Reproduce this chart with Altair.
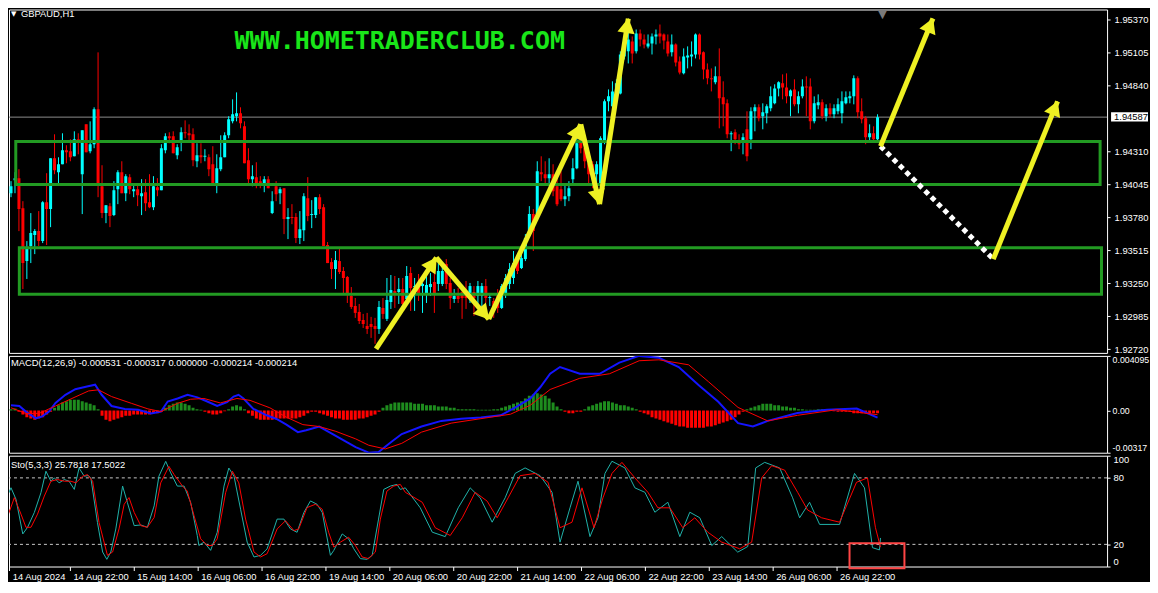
import json, math
import altair as alt
import pandas as pd

# ---------------- text ----------------
SYMBOL = "GBPAUD,H1"
SITE = "WWW.HOMETRADERCLUB.COM"
MACD_TITLE = "MACD(12,26,9) -0.000531 -0.000317 0.000000 -0.000214 -0.000214"
STO_TITLE = "Sto(5,3,3) 25.7818 17.5022"
LAST_PRICE = 1.94587

X_LABELS = ["14 Aug 2024", "14 Aug 22:00", "15 Aug 14:00", "16 Aug 06:00", "16 Aug 22:00",
            "19 Aug 14:00", "20 Aug 06:00", "20 Aug 22:00", "21 Aug 14:00", "22 Aug 06:00",
            "22 Aug 22:00", "23 Aug 14:00", "26 Aug 06:00", "26 Aug 22:00"]
X_TICK_BARS = [0.8, 16, 32, 48, 64, 80, 96, 112, 128, 144, 160, 176, 192, 208]
PRICE_TICKS = [1.95370, 1.95105, 1.94840, 1.94310, 1.94045, 1.93780, 1.93515, 1.93250, 1.92985, 1.92720]
MACD_TICKS = [0.004095, 0.0, -0.00317]
STO_TICKS = [100, 80, 20, 0]
STO_LEVELS = [20, 80]

# ---------------- H1 candles (prices in points, 1e-5) ----------------
OPEN_PTS = [193975,194080,194096,193855,193429,193550,193638,193670,193590,193903,
193847,194256,194144,194208,194321,194313,194272,194409,194128,194529,
194313,194369,194650,194031,193815,193871,193799,194007,194144,193975,
194104,193991,194007,193951,193983,193903,193863,194023,193999,194321,
194433,194433,194280,194393,194465,194457,194449,194232,194280,194269,
194264,194208,194048,194168,194264,194441,194553,194594,194618,194513,
194240,194088,194104,194072,194056,194088,193815,194031,193975,194015,
193767,193783,193783,193614,193678,193935,193799,193799,193943,193863,
193558,193421,193365,193429,193349,193301,193148,193068,193020,192955,
192907,192923,192907,192883,193052,192964,193100,193188,193180,193204,
193124,193333,193220,193228,193228,193172,193220,193261,193245,193245,
193405,193253,193124,193148,193180,193164,193132,193180,193148,193148,
193228,193132,193108,193164,193052,193164,193245,193293,193429,193373,
193445,193646,193807,193807,194144,194128,194096,194128,194031,194007,
193927,193951,194088,194176,194393,194337,194216,194208,194128,194048,
194393,194714,194674,194778,194778,195075,195116,195196,195116,195260,
195212,195156,195180,195236,195260,195252,195196,195108,195172,195035,
194939,195067,195075,195091,195252,195108,194971,194899,194867,194915,
194746,194698,194449,194465,194377,194401,194489,194409,194634,194666,
194594,194618,194658,194698,194818,194859,194826,194754,194810,194690,
194754,194834,194834,194553,194682,194706,194594,194658,194610,194634,
194618,194698,194738,194754,194899,194634,194578,194425,194457,194409]
HIGH_PTS = [194072,194144,194168,193911,193590,193815,193686,193831,193911,194136,
194256,194449,194264,194457,194361,194409,194473,194457,194481,194529,
194553,194666,195108,194200,193879,193895,194072,194160,194232,194128,
194128,194056,194056,194088,194088,194128,194112,194096,194369,194457,
194465,194473,194369,194505,194561,194529,194497,194377,194377,194329,
194288,194353,194288,194441,194465,194594,194730,194786,194666,194553,
194337,194200,194224,194112,194112,194112,193991,194072,194023,194015,
193855,193887,193815,193831,193975,194104,193919,193943,193967,193887,
193582,193453,193510,193526,193381,193309,193220,193132,193084,193004,
193012,192980,192972,193108,193132,193293,193317,193309,193293,193293,
193389,193381,193293,193325,193253,193333,193333,193405,193429,193413,
193445,193293,193204,193212,193212,193269,193253,193228,193269,193253,
193285,193172,193132,193204,193245,193325,193413,193510,193469,193510,
193646,193871,193847,194232,194272,194232,194256,194208,194112,194152,
194056,194072,194256,194417,194457,194369,194256,194232,194232,194433,
194730,194810,194875,194891,195116,195220,195300,195236,195292,195292,
195252,195252,195260,195292,195332,195260,195252,195252,195180,195075,
195140,195156,195196,195260,195260,195116,195019,194979,194995,195140,
194875,194730,194473,194489,194449,194457,194634,194666,194690,194690,
194698,194690,194834,194851,194875,194931,194939,194810,194891,194794,
194891,194915,194899,194754,194770,194730,194690,194698,194690,194738,
194794,194794,194794,194923,194915,194738,194594,194529,194513,194610]
LOW_PTS = [193943,193975,193670,193204,193285,193413,193485,193550,193574,193558,
193702,194128,194056,194208,194216,194232,194272,194288,193807,194304,
194296,194337,193943,193775,193734,193702,193791,193887,193975,193911,
193967,193943,193871,193799,193831,193855,193839,193951,193999,194296,
194377,194296,194248,194313,194417,194401,194192,194184,194216,194232,
194112,194056,193975,194152,194264,194417,194537,194553,194497,194216,
194056,194031,194015,194015,193983,194015,193807,193911,193887,193646,
193606,193726,193574,193566,193590,193750,193694,193775,193807,193550,
193413,193285,193204,193325,193172,193092,193044,192972,192923,192891,
192843,192811,192763,192843,192964,192947,193044,193052,193084,193028,
193084,193028,193028,193108,193012,193092,193148,193012,193188,193228,
193204,193044,193092,193092,192964,193044,193092,192988,193068,193052,
193092,193068,192972,193012,193044,193132,193204,193245,193325,193365,
193429,193646,193510,193807,194072,194056,194031,193951,193871,193911,
193871,193911,194056,194168,194296,194176,194056,194015,193935,194031,
194369,194634,194634,194738,194770,195051,195019,195019,195099,195156,
195140,195140,195091,195172,195180,195132,195075,195075,194995,194931,
194931,194979,194995,195059,195051,194891,194851,194794,194851,194497,
194513,194417,194313,194369,194329,194288,194232,194329,194473,194553,
194489,194537,194634,194690,194754,194730,194698,194594,194674,194618,
194738,194594,194489,194537,194650,194570,194553,194586,194578,194610,
194537,194690,194698,194690,194578,194537,194369,194393,194401,194393]
CLOSE_PTS = [194031,194096,193847,193413,193534,193654,193670,193590,193903,193847,
194256,194160,194208,194321,194304,194264,194409,194401,194481,194304,
194369,194650,194056,193815,193879,193791,193999,194144,193975,194112,
194007,194007,193959,193975,193895,193863,194031,193999,194337,194433,
194417,194296,194345,194465,194457,194441,194240,194280,194264,194277,
194168,194056,194176,194264,194441,194570,194610,194618,194537,194216,
194088,194112,194056,194048,194088,194015,193911,193967,194007,193767,
193783,193775,193614,193686,193951,193791,193807,193943,193847,193550,
193413,193365,193437,193341,193293,193172,193060,193012,192947,192923,
192883,192899,192883,193060,193004,193116,193196,193172,193204,193084,
193309,193212,193228,193172,193245,193237,193245,193172,193349,193349,
193245,193132,193148,193124,193132,193132,193228,193132,193228,193228,
193132,193140,193052,193052,193228,193293,193365,193413,193349,193453,
193614,193807,193670,194152,194128,194096,194128,193991,193887,193927,
193951,194015,194176,194377,194337,194232,194128,194120,194208,194417,
194714,194754,194794,194859,195091,195180,195212,195099,195260,195212,
195172,195180,195236,195252,195236,195204,195099,195172,195027,194947,
195075,195083,195091,195252,195091,194971,194899,194891,194915,194738,
194690,194449,194457,194409,194369,194425,194272,194634,194666,194578,
194626,194674,194754,194818,194867,194826,194754,194802,194690,194754,
194834,194826,194553,194698,194706,194594,194658,194610,194658,194690,
194714,194746,194754,194899,194626,194570,194425,194457,194409,194587]

# ---------------- MACD ----------------
MACD_HIST = [0.0001,0.00015,-0.0001,-0.0003,-0.0005,-0.0006,-0.0007,-0.0006,-0.0005,-0.0003,-0.0001,
0.0002,0.0004,0.0006,0.0007,0.0008,0.0008,0.0008,0.0007,0.0006,0.0005,0.0004,0.0001,
-0.0004,-0.0007,-0.0008,-0.0007,-0.0006,-0.0005,-0.0004,-0.0004,-0.0003,-0.0003,-0.0003,-0.0003,-0.0003,-0.0002,-0.0002,-0.0001,
0.0002,0.0004,0.0005,0.0006,0.0006,0.0005,0.0004,0.0002,0.0001,0.00005,
-0.0001,-0.0002,-0.0003,-0.0003,-0.0002,-0.00005,
0.0001,0.0003,0.0004,0.0003,0.0001,
-0.0002,-0.0004,-0.0006,-0.0007,-0.0007,-0.0007,-0.0007,-0.0006,-0.0006,-0.0006,-0.0006,-0.0006,-0.0006,-0.0005,-0.0004,-0.0002,-0.0001,-0.0001,-0.0002,-0.0003,-0.0004,-0.0005,-0.0006,-0.0006,-0.0007,-0.0007,-0.0007,-0.0007,-0.0006,-0.0006,-0.0005,-0.0004,-0.0003,-0.0001,
0.0002,0.0004,0.0005,0.0006,0.0006,
0.0006,0.0006,0.0006,0.0005,0.0005,0.0005,0.0004,0.0004,0.0004,0.0003,0.0003,0.0003,0.0002,0.0002,0.0001,0.0001,0.0001,0.0001,0.0001,0.00005,0.00005,0.00005,0.00005,0.0001,0.0001,0.0002,0.0003,0.0004,0.0005,0.0006,0.0007,0.0009,0.0011,0.0012,0.0013,0.0012,0.0011,0.0009,0.0006,0.0003,0.0001,
-0.0001,-0.0002,-0.0002,-0.0001,-0.0001,0.0001,0.0003,0.0004,0.0005,0.0006,0.0007,0.0007,0.0006,0.0005,0.0004,0.0004,0.0003,0.0002,0.0001,
-0.0001,-0.0002,-0.0003,-0.0005,-0.0006,-0.0007,-0.0008,-0.0009,-0.001,-0.0011,-0.0012,-0.0012,-0.0013,-0.0013,-0.0013,-0.0013,-0.0013,-0.0012,-0.0012,-0.0011,-0.001,-0.0009,-0.0008,-0.0007,-0.0005,-0.0003,-0.0001,
0.0001,0.0002,0.0003,0.0004,0.0005,0.0005,0.0005,0.0004,0.0004,0.0003,0.0003,0.0002,0.0002,0.0001,0.0001,0.00005,0.00005,0.00005,0.0001,0.0001,0.00005,0.00002,
-0.00005,-0.0001,-0.0001,-0.0001,-0.0001,-0.0002,-0.0002,-0.0002,-0.0002,-0.0002,-0.0002,-0.000214]
MACD_MAIN_K = [0,2.1,3.75,6.25,7.9,9.6,11.25,13.75,16.25,19.2,21.25,22.9,25.4,28.75,32.1,35.4,37.9,39.6,42.1,44.6,
47.1,49.6,52.1,54.6,56.25,57.5,58.75,61.25,64.6,67.1,69.6,72.5,74.6,77.9,80.4,83.75,87.1,90.4,92.9,96.25,
98.75,103.75,108.75,113.75,118.75,123.75,127.5,131.25,133.75,136.25,138.75,143.75,148.75,153.75,158.75,163.75,168.75,173.75,178.75,183.75,
187.5,191.25,198.75,206.25,213.75,219]
MACD_MAIN_V = [0.000396,0.000337,-0.000084,-0.000589,-0.000446,-0.000084,0.000564,0.001178,0.001599,0.001801,
0.001936,0.001178,0.000337,0.000118,0.000059,-0.000219,-0.000084,0.000673,0.000901,0.001178,
0.000985,0.000673,0.000337,0.000623,0.001044,0.001178,0.000901,0.000118,-0.000362,-0.00064,
-0.001061,-0.001625,-0.001481,-0.001204,-0.001625,-0.002189,-0.002744,-0.003165,-0.003114,-0.002323,
-0.001768,-0.001204,-0.000783,-0.000614,-0.00053,-0.000362,0.000227,0.000901,0.001742,0.002753,
0.003258,0.002753,0.002753,0.003594,0.004095,0.003950,0.003258,0.001911,0.000648,-0.000951,
-0.001204,-0.000783,-0.000194,0.000059,0.000143,-0.000531]
MACD_SIG_K = [0,3.75,7.1,11.25,15.4,19.6,22.1,25.4,30.4,34.6,37.9,42.1,45.4,48.75,52.9,57.1,60.4,65.4,69.6,73.75,
77.9,82.1,87.1,90.4,94.6,98.75,103.75,111.25,118.75,126.25,131.25,136.25,143.75,151.25,158.75,163.75,171.25,176.25,183.75,191.25,
198.75,208.75,219]
MACD_SIG_V = [0.000202,-0.000219,-0.000219,0.000337,0.000901,0.001465,0.001549,0.001044,0.000539,0.000118,
-0.000084,0.000539,0.000842,0.000901,0.000564,0.000901,0.000758,0.000202,-0.000505,-0.001061,
-0.001204,-0.001566,-0.00213,-0.002609,-0.002887,-0.002466,-0.001625,-0.000951,-0.000614,-0.000278,
0.000396,0.001574,0.002416,0.002753,0.003731,0.003800,0.003426,0.002163,0.000227,-0.000783,
-0.000362,0.000059,-0.000317]

# ---------------- Stochastic ----------------
STO_MAIN_K = [0,1.25,2.5,4.2,5.4,7.1,8.75,10,11.25,12.1,13.3,14.6,15.8,17.1,18.3,19.6,20.6,21.25,22.9,24.2,
25.25,26.25,27.5,29.2,30.4,32.1,33.75,35.4,37.1,38.3,40,41.25,42.9,44.6,46.25,47.9,48.3,49.6,51.25,52.9,
54.6,55.8,57.1,58.75,60.4,62.1,63.75,65.4,67.9,69.6,71.25,72.9,74.6,76.25,77.9,79.2,81.25,82.1,84.2,85.8,
87.1,88.75,90.4,91.7,93.3,94.6,96.25,97.9,98.75,100,103.75,106.75,110,113.25,116.25,118.75,121.75,125,127.5,130,
133.75,136.75,138.75,141.25,143.25,146.25,148.25,150,151.75,155,157.5,160,162.5,165.75,168.75,171.25,173.75,176.75,179.25,183.25,
185.75,187.75,190,193.75,197,198.75,201.25,203.75,208.75,212.5,215,217,218.75,219]
STO_MAIN_V = [60.7,71.1,60.7,29.4,35.4,48.8,66.6,86,77,80,75.5,78.5,77,69.6,88.9,81.5,82.1,80,39.8,13.1,
6.5,13.1,33.9,72.6,57.7,36.9,37.5,35.4,54.7,81.5,94.9,84.5,72.6,72.6,57.7,28,19,22,14.6,30.9,
72.6,88.9,81.5,51.7,22,8.6,10.1,16,42.8,42.8,33.9,30.9,48.8,59.2,56.2,48.8,10.1,14.6,29.4,25,
16,7.1,6.5,10.1,42.8,69.6,72.6,74.1,69.6,71,53,31,27,53,71,62,40,62,84,89,
82,67,22,53,77,27,44,84,95,89,71,67,49,58,27,49,44,19,27,13,
18,89,94,89,62,44,58,38,38,84,71,17,15,25.78]
STO_SIG_K = [0,2.1,3.75,5,6.25,7.9,9.6,11.25,12.9,14.6,16.25,17.5,19.2,20.4,21.7,23.3,25.4,26.7,28.3,29.6,
30.8,32.1,33.75,35.4,37.1,38.75,40.8,42.1,44.2,45.4,47.1,48.75,50.4,51.7,52.9,55,56.7,58.3,60,62.1,
63.75,65.4,67.9,70,72.1,73.3,75.4,77.5,79.2,80.8,82.1,83.75,85.8,87.5,89.2,90.8,92.5,93.75,95.4,97.1,
98.75,100,104.25,107.5,111.25,114.25,117.5,120.5,123,125.75,128.75,132.5,135.75,138.75,141.75,144.25,147.25,149.5,151.75,154.25,
157.5,160.75,163.25,166.25,169.5,172.5,175.75,179.25,183.75,186.75,189.25,191.75,195,198.25,200.75,204.25,208.75,213,215.75,217.75,219]
STO_SIG_V = [41.3,62.2,47.3,35.4,35.4,47.3,63.6,77,78.5,77,77,75.5,81.5,83,77,39.8,10.1,13.1,33.9,56.2,
62.2,48.8,36.9,35.4,44.3,75.5,90.4,83,72.6,68.1,45.8,25,19,19,25,66.6,86,75.5,42.8,13.1,
8.6,11.6,33.9,41.3,32.4,33.9,53.2,56.2,51.7,30.9,17.5,22,26.5,19,8.6,7.1,13.1,42.8,68.1,72.6,
74.1,67,58,35,28,44,67,59,44,62,82,84,76,35,40,71,35,62,84,94,
80,67,53,53,35,44,31,22,16,22,80,91,87,67,51,44,40,76,80,35,17.5]

# ---------------- drawn annotations (bar index / price) ----------------
ZONE_K1 = [1.2, 2.1]
ZONE_K2 = [275.25, 275.6]
ZONE_HI = [1.94390, 1.93536]
ZONE_LO = [1.94045, 1.93162]
ARROW_K1 = [92.25, 107.5, 120.75, 144.0, 148.75, 219.75, 248.25]
ARROW_P1 = [1.92722, 1.93456, 1.92963, 1.94529, 1.93887, 1.94353, 1.93445]
ARROW_K2 = [107.5, 120.75, 144.0, 148.75, 156.0, 233.0, 264.5]
ARROW_P2 = [1.93456, 1.92963, 1.94529, 1.93887, 1.95380, 1.95380, 1.94714]
DOT_K = [219.75, 248.25]
DOT_P = [1.94353, 1.93445]
STO_BOX_K = [211.25, 225.0]
STO_BOX_V = [-1.5, 21.0]
SHIFT_MARK_K = [220.25]

# ---------------- layout constants ----------------
W = 1100
H_PRICE, H_MACD, H_STO = 344, 97, 111
X_DOM = [0.75, 275.75]
P_DOM = [1.926904, 1.954528]
CYAN, RED = "#00ffff", "#ff0000"
GREEN_ZONE = "#229a22"
YELLOW = "#eef023"
FONT = "Liberation Sans"
FS = 9.4

xs = alt.Scale(domain=X_DOM, nice=False, zero=False)
ps = alt.Scale(domain=P_DOM, nice=False, zero=False)
ms = alt.Scale(domain=[MACD_TICKS[2], MACD_TICKS[0]], nice=False, zero=False)
ss = alt.Scale(domain=[0, 100], nice=False, zero=False)

price_axis = alt.Axis(orient="right", values=PRICE_TICKS, format=".5f", tickSize=3,
                      labelPadding=4, title=None)
macd_axis = alt.Axis(orient="right", values=MACD_TICKS, tickSize=3, labelPadding=2, title=None,
                     labelFlush=True, labelFontSize=8.8,
                     labelExpr="datum.value > 0.001 ? '0.004095' : (datum.value < -0.001 ? '-0.00317' : '0.00')")
sto_axis = alt.Axis(orient="right", values=STO_TICKS, tickSize=3, labelPadding=3, title=None,
                    labelFlush=True)
x_axis = alt.Axis(values=X_TICK_BARS,
                  labelExpr=json.dumps(X_LABELS) + "[round(datum.value/16)]",
                  labelAlign="left", labelOffset=3, tickSize=4, labelPadding=2,
                  labelOverlap=False, labelFlush=False, title=None)
XN = alt.X("k:Q", scale=xs, axis=None)

# ---------------- price panel ----------------
n = min(len(OPEN_PTS), len(HIGH_PTS), len(LOW_PTS), len(CLOSE_PTS))
cdf = pd.DataFrame({
    "k": list(range(n)),
    "open": [v / 1e5 for v in OPEN_PTS[:n]],
    "high": [v / 1e5 for v in HIGH_PTS[:n]],
    "low": [v / 1e5 for v in LOW_PTS[:n]],
    "close": [v / 1e5 for v in CLOSE_PTS[:n]],
})
cdf["dir"] = ["up" if c >= o else "down" for o, c in zip(cdf["open"], cdf["close"])]
ccol = alt.Color("dir:N", scale=alt.Scale(domain=["up", "down"], range=[CYAN, RED]), legend=None)

cur = alt.Chart(pd.DataFrame({"p": [LAST_PRICE]})).mark_rule(color="#8c8c8c", strokeWidth=1).encode(
    y=alt.Y("p:Q", scale=ps, axis=price_axis))
wick = alt.Chart(cdf).mark_rule(strokeWidth=1, clip=True).encode(
    x=XN, y=alt.Y("low:Q", scale=ps, axis=price_axis), y2="high:Q", color=ccol)
body = alt.Chart(cdf).mark_bar(size=3, clip=True).encode(
    x=XN, y=alt.Y("open:Q", scale=ps, axis=price_axis), y2="close:Q", color=ccol)

zdf = pd.DataFrame({"k1": ZONE_K1, "k2": ZONE_K2, "hi": ZONE_HI, "lo": ZONE_LO})
zones = alt.Chart(zdf).mark_rect(fillOpacity=0, stroke=GREEN_ZONE, strokeWidth=3).encode(
    x=alt.X("k1:Q", scale=xs, axis=None), x2="k2:Q",
    y=alt.Y("hi:Q", scale=ps, axis=price_axis), y2="lo:Q")

px_bar = W / (X_DOM[1] - X_DOM[0])
px_price = H_PRICE / (P_DOM[1] - P_DOM[0])
adf = pd.DataFrame({"k1": ARROW_K1, "p1": ARROW_P1, "k2": ARROW_K2, "p2": ARROW_P2})
heads = []
for k1, p1, k2, p2 in zip(ARROW_K1, ARROW_P1, ARROW_K2, ARROW_P2):
    dx = (k2 - k1) * px_bar
    dy = -(p2 - p1) * px_price
    ln = math.hypot(dx, dy)
    ang = math.degrees(math.atan2(dx, -dy)) % 360
    heads.append({"k": k2 - 7 * dx / ln / px_bar, "p": p2 + 7 * dy / ln / px_price, "ang": ang})
hdf = pd.DataFrame(heads)
arrows = alt.Chart(adf).mark_rule(color=YELLOW, strokeWidth=5).encode(
    x=alt.X("k1:Q", scale=xs, axis=None), x2="k2:Q",
    y=alt.Y("p1:Q", scale=ps, axis=price_axis), y2="p2:Q")
arrowheads = alt.Chart(hdf).mark_point(shape="triangle-up", filled=True, size=300, opacity=1,
                                      color=YELLOW, strokeWidth=0).encode(
    x=alt.X("k:Q", scale=xs, axis=None), y=alt.Y("p:Q", scale=ps, axis=price_axis),
    angle=alt.Angle("ang:Q", scale=None))
ddf = pd.DataFrame({"k1": [DOT_K[0]], "k2": [DOT_K[1]], "p1": [DOT_P[0]], "p2": [DOT_P[1]]})
dotted = alt.Chart(ddf).mark_rule(color="#ffffff", strokeWidth=5, strokeDash=[5, 4]).encode(
    x=alt.X("k1:Q", scale=xs, axis=None), x2="k2:Q",
    y=alt.Y("p1:Q", scale=ps, axis=price_axis), y2="p2:Q")

shift_mark = alt.Chart(pd.DataFrame({"k": SHIFT_MARK_K, "t": ["\u25BC"]})).mark_text(
    align="center", baseline="top", font="DejaVu Sans", fontSize=11, color="#7a7a7a").encode(
    x=alt.X("k:Q", scale=xs, axis=None), y=alt.value(0), text="t:N")
sym_tri = alt.Chart(pd.DataFrame({"t": ["\u25BC"]})).mark_text(
    align="left", baseline="middle", font="DejaVu Sans", fontSize=7, color="#ffffff").encode(
    x=alt.value(2), y=alt.value(5), text="t:N")
sym = alt.Chart(pd.DataFrame({"t": [SYMBOL]})).mark_text(
    align="left", baseline="middle", font=FONT, fontSize=FS, color="#ffffff").encode(
    x=alt.value(12), y=alt.value(5), text="t:N")
site = alt.Chart(pd.DataFrame({"t": [SITE]})).mark_text(
    align="left", baseline="alphabetic", font="DejaVu Sans Mono", fontWeight="bold",
    fontSize=25, color="#19e619").encode(x=alt.value(226), y=alt.value(40), text="t:N")

bdf = pd.DataFrame({"p": [LAST_PRICE], "hi": [LAST_PRICE + 0.0004], "lo": [LAST_PRICE - 0.00036],
                    "t": ["%.5f" % LAST_PRICE]})
pbox = alt.Chart(bdf).mark_rect(color="#ffffff").encode(
    x=alt.value(1104), x2=alt.value(1141),
    y=alt.Y("hi:Q", scale=ps, axis=price_axis), y2="lo:Q")
ptxt = alt.Chart(bdf).mark_text(align="left", baseline="middle", font=FONT, fontSize=FS,
                                color="#000000").encode(
    x=alt.value(1107), y=alt.Y("p:Q", scale=ps, axis=price_axis), text="t:N")

price = alt.layer(cur, wick, body, zones, dotted, arrows, arrowheads, shift_mark, sym_tri, sym,
                  site, pbox, ptxt).properties(width=W, height=H_PRICE)

# ---------------- MACD panel ----------------
hdf2 = pd.DataFrame({"k": list(range(len(MACD_HIST))), "h": MACD_HIST})
hist = alt.Chart(hdf2).mark_bar(size=3, clip=True).encode(
    x=XN, y=alt.Y("h:Q", scale=ms, axis=macd_axis), y2=alt.datum(0),
    color=alt.condition("datum.h >= 0", alt.value("#1e8c1e"), alt.value(RED)))
mm = pd.DataFrame({"k": MACD_MAIN_K[:len(MACD_MAIN_V)], "v": MACD_MAIN_V[:len(MACD_MAIN_K)]})
msg = pd.DataFrame({"k": MACD_SIG_K[:len(MACD_SIG_V)], "v": MACD_SIG_V[:len(MACD_SIG_K)]})
mline = alt.Chart(mm).mark_line(color="#1414ff", strokeWidth=2, clip=True).encode(
    x=XN, y=alt.Y("v:Q", scale=ms, axis=macd_axis))
sline = alt.Chart(msg).mark_line(color=RED, strokeWidth=1, clip=True).encode(
    x=XN, y=alt.Y("v:Q", scale=ms, axis=macd_axis))
mtitle = alt.Chart(pd.DataFrame({"t": [MACD_TITLE]})).mark_text(
    align="left", baseline="middle", font=FONT, fontSize=FS, color="#ffffff").encode(
    x=alt.value(2), y=alt.value(7), text="t:N")
macd = alt.layer(hist, mline, sline, mtitle).properties(width=W, height=H_MACD)

# ---------------- Stochastic panel ----------------
XS = alt.X("k:Q", scale=xs, axis=x_axis)
lv = alt.Chart(pd.DataFrame({"v": STO_LEVELS})).mark_rule(color="#c8c8c8", strokeDash=[3, 3],
                                                          strokeWidth=1).encode(
    y=alt.Y("v:Q", scale=ss, axis=sto_axis))
stm = pd.DataFrame({"k": STO_MAIN_K[:len(STO_MAIN_V)], "v": STO_MAIN_V[:len(STO_MAIN_K)]})
sts = pd.DataFrame({"k": STO_SIG_K[:len(STO_SIG_V)], "v": STO_SIG_V[:len(STO_SIG_K)]})
kline = alt.Chart(stm).mark_line(color="#20b2aa", strokeWidth=1, clip=True).encode(
    x=XS, y=alt.Y("v:Q", scale=ss, axis=sto_axis))
dline = alt.Chart(sts).mark_line(color=RED, strokeWidth=1, clip=True).encode(
    x=XS, y=alt.Y("v:Q", scale=ss, axis=sto_axis))
sbox = alt.Chart(pd.DataFrame({"k1": [STO_BOX_K[0]], "k2": [STO_BOX_K[1]],
                               "v1": [STO_BOX_V[0]], "v2": [STO_BOX_V[1]]})).mark_rect(
    fillOpacity=0, stroke="#ff4545", strokeWidth=2).encode(
    x=alt.X("k1:Q", scale=xs, axis=x_axis), x2="k2:Q",
    y=alt.Y("v1:Q", scale=ss, axis=sto_axis), y2="v2:Q")
stitle = alt.Chart(pd.DataFrame({"t": [STO_TITLE]})).mark_text(
    align="left", baseline="middle", font=FONT, fontSize=FS, color="#ffffff").encode(
    x=alt.value(2), y=alt.value(9), text="t:N")
sto = alt.layer(lv, kline, dline, sbox, stitle).properties(width=W, height=H_STO)

chart = alt.VConcatChart(vconcat=[price, macd, sto], spacing=3, bounds="flush").properties(
    padding=0, background="#000000"
).configure_view(stroke="#ffffff", strokeWidth=1).configure_axis(
    labelColor="#ffffff", tickColor="#ffffff", labelFont=FONT, labelFontSize=FS,
    domain=False, grid=False)

chart.save("out.html", embed_options={"renderer": "svg", "actions": False})
